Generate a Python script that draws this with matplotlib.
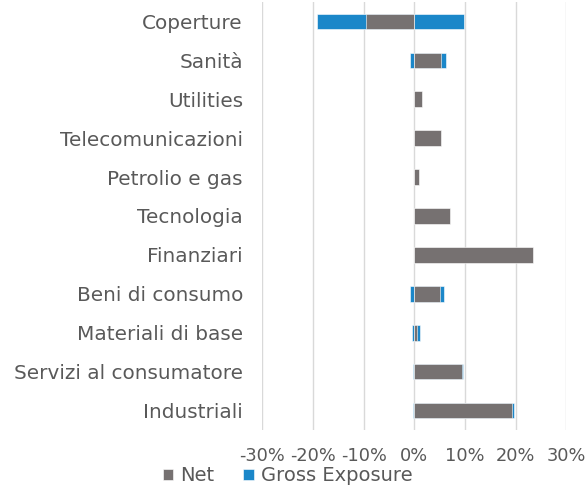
import matplotlib
matplotlib.use("Agg")
import matplotlib.pyplot as plt
import numpy as np

plt.rcParams["font.family"] = ["DejaVu Sans"]

categories = ["Coperture", "Sanità", "Utilities", "Telecomunicazioni", "Petrolio e gas",
              "Tecnologia", "Finanziari", "Beni di consumo", "Materiali di base",
              "Servizi al consumatore", "Industriali"]
gross_long = [9.8, 6.2, 0.0, 0.0, 0.0, 0.0, 0.0, 5.9, 1.05, 9.7, 19.7]
gross_short = [-19.3, -0.85, 0.0, 0.0, 0.0, 0.0, 0.0, -0.8, -0.45, -0.2, -0.35]
net = [-9.6, 5.2, 1.6, 5.3, 1.0, 7.1, 23.5, 5.0, 0.55, 9.5, 19.3]
xticks = [-30, -20, -10, 0, 10, 20, 30]
xtick_labels = ["-30%", "-20%", "-10%", "0%", "10%", "20%", "30%"]

grey = "#767171"
blue = "#1b87c9"
text_col = "#595959"

fig = plt.figure(figsize=(5.87, 4.92), dpi=100)
ax = fig.add_axes([0.4469, 0.126, 0.5178, 0.870])

y = np.arange(len(categories))
h = 0.4
ax.barh(y, gross_long, height=h, color=blue, edgecolor="white", linewidth=0.4, zorder=2,
        label="Gross Exposure")
ax.barh(y, gross_short, height=h, color=blue, edgecolor="white", linewidth=0.4, zorder=2)
ax.barh(y, net, height=h, color=grey, edgecolor="white", linewidth=0.4, zorder=3, label="Net")

ax.set_xlim(-30, 30)
ax.set_ylim(len(categories) - 0.5, -0.5)
ax.set_xticks(xticks)
ax.set_xticklabels(xtick_labels)
ax.set_yticks(y)
ax.set_yticklabels(categories)
ax.tick_params(axis="both", length=0, colors=text_col)
ax.tick_params(axis="y", pad=14, labelsize=14.4)
ax.tick_params(axis="x", pad=12, labelsize=12.8)
for s in ax.spines.values():
    s.set_visible(False)
ax.grid(axis="x", color="#d9d9d9", linewidth=1, zorder=0)
ax.set_axisbelow(True)

handles, labels = ax.get_legend_handles_labels()
order = [labels.index("Net"), labels.index("Gross Exposure")]
leg = fig.legend([handles[i] for i in order], [labels[i] for i in order],
                 loc="lower center", bbox_to_anchor=(0.49, -0.022), ncol=2, frameon=False,
                 fontsize=14, handlelength=0.55, handleheight=0.55, handletextpad=0.35,
                 columnspacing=1.5, labelcolor=text_col)

fig.savefig("out.png", dpi=100)
